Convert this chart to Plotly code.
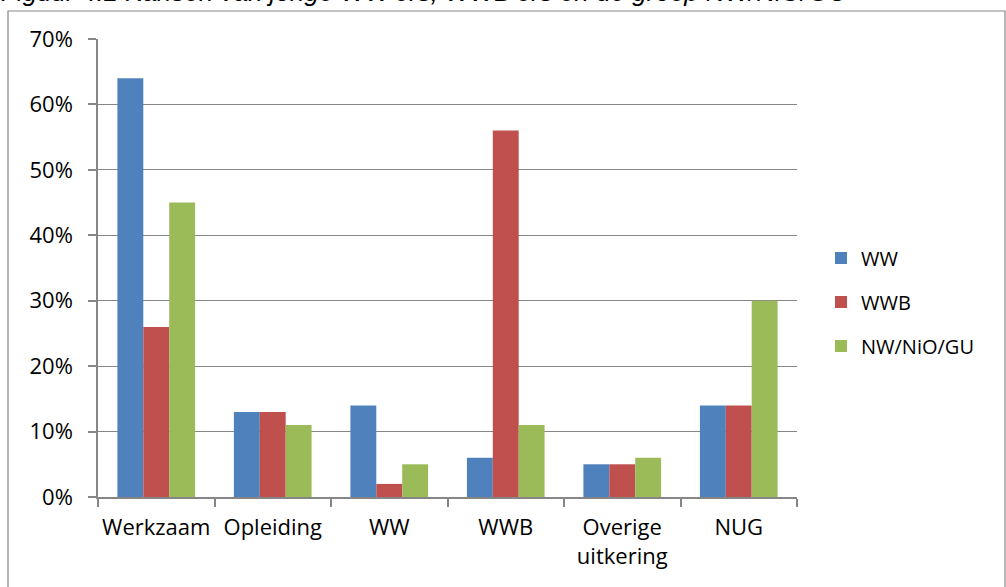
import plotly.graph_objects as go

categories = ["Werkzaam", "Opleiding", "WW", "WWB", "Overige<br>uitkering", "NUG"]
ww = [0.64, 0.13, 0.14, 0.06, 0.05, 0.14]
wwb = [0.26, 0.13, 0.02, 0.56, 0.05, 0.14]
nw = [0.45, 0.11, 0.05, 0.11, 0.06, 0.30]
series_names = ["WW", "WWB", "NW/NiO/GU"]
colors = ["#4F81BD", "#C0504D", "#9BBB59"]
title_text = "Figuur 4.1 Kansen van jonge WW'ers, WWB'ers en de groep NW/NiO/GU"

W, H = 1006, 587
L, R, T, B = 98, 797, 39, 497

def px(x):
    return (x - L) / (R - L)

def py(y):
    return (B - y) / (B - T)

fig = go.Figure()
for i, (name, vals) in enumerate(zip(series_names, [ww, wwb, nw])):
    fig.add_trace(go.Bar(x=categories, y=vals, name=name,
                         marker=dict(color=colors[i], line=dict(width=0)),
                         legendgroup=name))

font_family = "'Open Sans', sans-serif"
fig.update_layout(
    width=W, height=H,
    margin=dict(l=L, r=W - R, t=T, b=H - B, autoexpand=False),
    paper_bgcolor="white", plot_bgcolor="white",
    barmode="group", bargap=0.333, bargroupgap=0,
    font=dict(family=font_family, size=22, color="#000000"),
    showlegend=True,
    legend=dict(x=px(821), y=py(302), xanchor="left", yanchor="middle",
                font=dict(size=20), tracegroupgap=15, traceorder="grouped",
                bgcolor="rgba(0,0,0,0)", itemclick=False),
    xaxis=dict(showline=True, linecolor="#868686", linewidth=1.5,
               ticks="outside", tickson="boundaries", ticklen=8,
               tickcolor="#868686", tickwidth=1.5, showgrid=False,
               tickangle=0, automargin=False, ticklabelstandoff=10,
               tickfont=dict(size=22)),
    yaxis=dict(range=[0, 0.7], dtick=0.1, tickformat=".0%",
               showline=True, linecolor="#868686", linewidth=1.5,
               ticks="outside", ticklen=8, tickcolor="#868686", tickwidth=1.5,
               showgrid=True, gridcolor="#868686", gridwidth=1.2,
               zeroline=False, automargin=False,
               tickfont=dict(size=22), ticklabelstandoff=11),
)

fig.add_shape(type="rect", xref="paper", yref="paper",
              x0=px(8), x1=px(1005), y0=py(11), y1=py(620),
              line=dict(color="#888888", width=1.2), fillcolor="rgba(0,0,0,0)",
              layer="below")

fig.add_annotation(text=title_text, xref="paper", yref="paper",
                   x=px(-1), y=py(9), xanchor="left", yanchor="bottom",
                   showarrow=False,
                   font=dict(family="'Liberation Sans', Arial, sans-serif",
                             size=26, color="#000000", style="italic"))

fig.write_html("out.html", config={"displayModeBar": False},
               post_script="document.body.style.margin='0';")
